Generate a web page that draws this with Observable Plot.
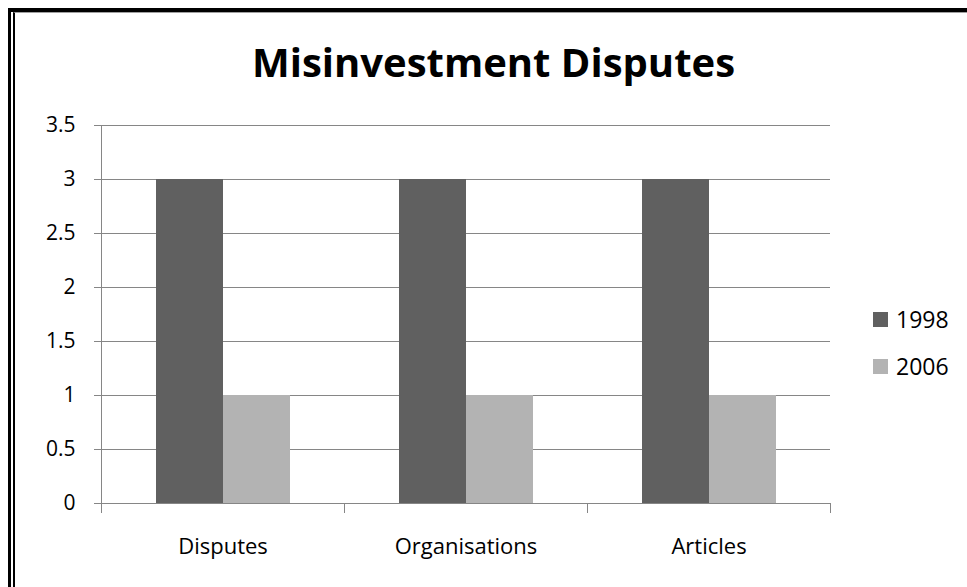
<!DOCTYPE html>
<html>
<head>
<meta charset="utf-8">
<script src="https://cdn.jsdelivr.net/npm/d3@7"></script>
<script src="https://cdn.jsdelivr.net/npm/@observablehq/plot@0.6"></script>
<style>
  html, body { margin: 0; padding: 0; background: #fff; }
  #page { position: relative; width: 967px; height: 587px; overflow: hidden; background: #fff; font-family: "Open Sans", sans-serif; }
  #b1 { position: absolute; left: 8px; top: 8px; right: 0; bottom: 0; border-left: 3px solid #000; border-top: 4px solid #000; }
  #b2 { position: absolute; left: 13px; top: 12px; right: 0; bottom: 0; border-left: 2px solid #000; border-top: 1px solid #a0a0a0; }
  #title { position: absolute; left: 10px; width: 967px; top: 37px; text-align: center; font-weight: bold; font-size: 40px; line-height: 50px; color: #000; }
  #chart { position: absolute; left: 0; top: 100px; }
  #legend { position: absolute; left: 873px; top: 302px; font-size: 23px; color: #000; }
  .item { display: flex; align-items: center; height: 34px; margin-bottom: 13px; }
  .sw { width: 15px; height: 15px; margin-right: 8px; }
</style>
</head>
<body>
<div id="page">
  <div id="b1"></div>
  <div id="b2"></div>
  <div id="title">Misinvestment Disputes</div>
  <div id="chart"></div>
  <div id="legend"></div>
</div>
<script>
const categories = ["Disputes", "Organisations", "Articles"];
const series = ["1998", "2006"];
const values1998 = [3, 3, 3];
const values2006 = [1, 1, 1];
const yTicks = [0, 0.5, 1, 1.5, 2, 2.5, 3, 3.5];
const colors = ["#606060", "#b3b3b3"];

const data = categories.flatMap((c, i) => [
  {cat: c, year: series[0], value: values1998[i]},
  {cat: c, year: series[1], value: values2006[i]}
]);

const gray = "#868686";
const chart = Plot.plot({
  width: 967,
  height: 487,
  marginLeft: 101,
  marginRight: 137,
  marginTop: 25,
  marginBottom: 84,
  style: {fontFamily: "Open Sans", fontSize: "22px", color: "#000", background: "transparent", overflow: "visible"},
  fx: {domain: categories, padding: 0, label: null},
  x: {domain: series, paddingInner: 0, paddingOuter: 0.79, axis: null},
  y: {domain: [0, 3.5], label: null},
  color: {domain: series, range: colors},
  marks: [
    Plot.gridY(yTicks, {stroke: gray, strokeOpacity: 1}),
    Plot.barY(data, {fx: "cat", x: "year", y: "value", fill: "year"}),
    Plot.axisY(yTicks, {tickSize: 7, tickPadding: 19, tickFormat: d => String(d), stroke: gray, fill: "#000", fontSize: 21, label: null}),
    Plot.frame({anchor: "left", stroke: gray, facetAnchor: "left"}),
    Plot.frame({anchor: "left", stroke: gray, insetTop: 378, insetBottom: -9}),
    Plot.frame({anchor: "right", stroke: gray, insetTop: 378, insetBottom: -9}),
    Plot.ruleY([0], {stroke: gray}),
    Plot.axisFx({anchor: "bottom", tickSize: 0, tickPadding: 35, fontSize: 22, fill: "#000", label: null})
  ]
});
document.getElementById("chart").appendChild(chart);

const legend = document.getElementById("legend");
series.forEach((s, i) => {
  const item = document.createElement("div");
  item.className = "item";
  const sw = document.createElement("div");
  sw.className = "sw";
  sw.style.background = colors[i];
  const t = document.createElement("span");
  t.textContent = s;
  item.appendChild(sw);
  item.appendChild(t);
  legend.appendChild(item);
});
</script>
</body>
</html>
